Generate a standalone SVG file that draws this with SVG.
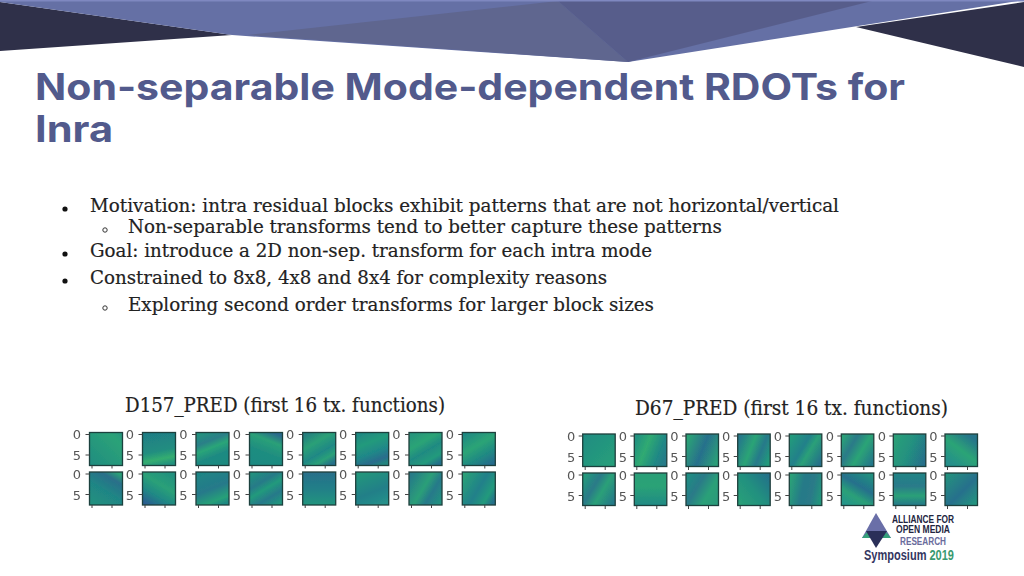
<svg xmlns="http://www.w3.org/2000/svg" width="1024" height="576" viewBox="0 0 1024 576">
<style>
.title{font-family:"Inter","Liberation Sans",sans-serif;font-weight:700;font-size:37px;fill:#525a8c}
.body{font-family:"DejaVu Serif","Liberation Serif",serif;font-size:18.5px;fill:#222;stroke:#222;stroke-width:.2}
.cap{font-family:"DejaVu Serif","Liberation Serif",serif;font-size:19.5px;fill:#222;stroke:#222;stroke-width:.2}
.ax{font-family:"DejaVu Sans",sans-serif;font-size:13px;fill:#555;text-anchor:middle}
.frame{stroke:#1f3f3c;stroke-width:1.3}
.tick{stroke:#444;stroke-width:1;fill:none}
.lg{font-family:"Liberation Sans",sans-serif;font-weight:700}
</style>
<defs>
<filter id="soft" x="-5%" y="-5%" width="110%" height="110%"><feGaussianBlur stdDeviation="0.45"/></filter>
<linearGradient id="a1" x1="0" y1="1" x2="1" y2="0"><stop offset="0" stop-color="#1f8c80"/><stop offset=".8" stop-color="#2ca278"/><stop offset="1" stop-color="#259680"/></linearGradient>
<linearGradient id="a2" x1=".4" y1="0" x2=".6" y2="1"><stop offset="0" stop-color="#1f7f85"/><stop offset=".55" stop-color="#218d80"/><stop offset=".8" stop-color="#34ad70"/><stop offset="1" stop-color="#22917f"/></linearGradient>
<linearGradient id="a3" x1=".3" y1="0" x2=".7" y2="1"><stop offset="0" stop-color="#24907f"/><stop offset=".25" stop-color="#2a7f88"/><stop offset=".45" stop-color="#2aa578"/><stop offset=".7" stop-color="#1f8a82"/><stop offset="1" stop-color="#1f8a80"/></linearGradient>
<linearGradient id="a4" x1=".7" y1="0" x2=".3" y2="1"><stop offset="0" stop-color="#2a6a8c"/><stop offset=".25" stop-color="#2aa078"/><stop offset=".6" stop-color="#1f8d80"/><stop offset="1" stop-color="#1f8a82"/></linearGradient>
<linearGradient id="a5" x1=".2" y1="0" x2=".8" y2="1"><stop offset="0" stop-color="#25807f"/><stop offset=".3" stop-color="#2ba077"/><stop offset=".6" stop-color="#1f8885"/><stop offset=".8" stop-color="#2aa078"/><stop offset="1" stop-color="#256f8a"/></linearGradient>
<linearGradient id="a6" x1=".3" y1="0" x2=".7" y2="1"><stop offset="0" stop-color="#1f8a82"/><stop offset=".3" stop-color="#239a7c"/><stop offset=".6" stop-color="#1f8888"/><stop offset=".85" stop-color="#2a6c8c"/><stop offset="1" stop-color="#22857f"/></linearGradient>
<linearGradient id="a7" x1=".2" y1="0" x2=".8" y2="1"><stop offset="0" stop-color="#26957c"/><stop offset=".3" stop-color="#2ca476"/><stop offset=".55" stop-color="#1f8a82"/><stop offset=".8" stop-color="#249a7c"/><stop offset="1" stop-color="#246f8b"/></linearGradient>
<linearGradient id="a8" x1=".2" y1="0" x2=".8" y2="1"><stop offset="0" stop-color="#1f8a82"/><stop offset=".4" stop-color="#2ca476"/><stop offset=".7" stop-color="#1f8a82"/><stop offset="1" stop-color="#266c8c"/></linearGradient>
<linearGradient id="a9" x1=".8" y1="0" x2=".2" y2="1"><stop offset="0" stop-color="#2ba077"/><stop offset=".2" stop-color="#2a6f8a"/><stop offset=".55" stop-color="#1f8585"/><stop offset="1" stop-color="#22907f"/></linearGradient>
<linearGradient id="a10" x1=".8" y1="0" x2=".2" y2="1"><stop offset="0" stop-color="#22907f"/><stop offset=".4" stop-color="#2aa078"/><stop offset=".7" stop-color="#1f8885"/><stop offset="1" stop-color="#2a5f8f"/></linearGradient>
<linearGradient id="a11" x1=".3" y1="0" x2=".7" y2="1"><stop offset="0" stop-color="#1f8585"/><stop offset=".5" stop-color="#26798a"/><stop offset=".85" stop-color="#26a078"/><stop offset="1" stop-color="#1f8a82"/></linearGradient>
<linearGradient id="a12" x1=".2" y1="0" x2=".8" y2="1"><stop offset="0" stop-color="#22907f"/><stop offset=".3" stop-color="#267a88"/><stop offset=".5" stop-color="#239a7c"/><stop offset=".75" stop-color="#26798a"/><stop offset="1" stop-color="#22957e"/></linearGradient>
<linearGradient id="a13" x1=".5" y1="0" x2=".5" y2="1"><stop offset="0" stop-color="#2a6f8a"/><stop offset=".5" stop-color="#207f88"/><stop offset="1" stop-color="#22957e"/></linearGradient>
<linearGradient id="a14" x1=".3" y1="0" x2=".7" y2="1"><stop offset="0" stop-color="#24967c"/><stop offset=".6" stop-color="#207f88"/><stop offset="1" stop-color="#26908a"/></linearGradient>
<linearGradient id="a15" x1="0" y1=".2" x2="1" y2=".8"><stop offset="0" stop-color="#267a88"/><stop offset=".45" stop-color="#2b9f78"/><stop offset=".7" stop-color="#26798a"/><stop offset="1" stop-color="#239080"/></linearGradient>
<linearGradient id="a16" x1="0" y1=".2" x2="1" y2=".8"><stop offset="0" stop-color="#2aa078"/><stop offset=".5" stop-color="#20808a"/><stop offset=".8" stop-color="#239a7c"/><stop offset="1" stop-color="#25708a"/></linearGradient>
<linearGradient id="b1" x1="0" y1="0" x2="1" y2="1"><stop offset="0" stop-color="#1f8c82"/><stop offset="1" stop-color="#28a07a"/></linearGradient>
<linearGradient id="b2" x1="0" y1=".3" x2="1" y2=".7"><stop offset="0" stop-color="#229280"/><stop offset=".35" stop-color="#30aa72"/><stop offset=".75" stop-color="#1f8885"/><stop offset="1" stop-color="#267a88"/></linearGradient>
<linearGradient id="b3" x1="0" y1=".3" x2="1" y2=".7"><stop offset="0" stop-color="#2ba276"/><stop offset=".5" stop-color="#28708c"/><stop offset="1" stop-color="#2a9f78"/></linearGradient>
<linearGradient id="b4" x1="0" y1=".3" x2="1" y2=".7"><stop offset="0" stop-color="#26798a"/><stop offset=".4" stop-color="#2ba476"/><stop offset=".7" stop-color="#26798a"/><stop offset="1" stop-color="#239a7c"/></linearGradient>
<linearGradient id="b5" x1="0" y1=".2" x2="1" y2=".8"><stop offset="0" stop-color="#249a7c"/><stop offset=".4" stop-color="#22808a"/><stop offset=".6" stop-color="#2aa078"/><stop offset="1" stop-color="#25708a"/></linearGradient>
<linearGradient id="b6" x1="0" y1=".2" x2="1" y2=".8"><stop offset="0" stop-color="#2aa078"/><stop offset=".3" stop-color="#2a7a88"/><stop offset=".6" stop-color="#2ca476"/><stop offset="1" stop-color="#24788a"/></linearGradient>
<linearGradient id="b7" x1="0" y1=".3" x2="1" y2=".7"><stop offset="0" stop-color="#2a9f78"/><stop offset=".5" stop-color="#249080"/><stop offset="1" stop-color="#25708a"/></linearGradient>
<linearGradient id="b8" x1=".2" y1=".9" x2=".8" y2=".1"><stop offset="0" stop-color="#25908a"/><stop offset=".5" stop-color="#2ca476"/><stop offset="1" stop-color="#25758a"/></linearGradient>
<linearGradient id="b9" x1="0" y1=".2" x2="1" y2=".8"><stop offset="0" stop-color="#249a7c"/><stop offset=".35" stop-color="#2a7a88"/><stop offset=".6" stop-color="#2aa078"/><stop offset="1" stop-color="#267a88"/></linearGradient>
<linearGradient id="b10" x1=".5" y1="1" x2=".5" y2="0"><stop offset="0" stop-color="#1f8a85"/><stop offset=".6" stop-color="#2ba276"/><stop offset="1" stop-color="#2a9f78"/></linearGradient>
<linearGradient id="b11" x1="0" y1=".2" x2="1" y2=".8"><stop offset="0" stop-color="#1f8d82"/><stop offset=".35" stop-color="#2a7a88"/><stop offset=".7" stop-color="#2aa078"/><stop offset="1" stop-color="#2a9a7a"/></linearGradient>
<linearGradient id="b12" x1="0" y1=".9" x2="1" y2=".1"><stop offset="0" stop-color="#2aa078"/><stop offset=".5" stop-color="#22907f"/><stop offset="1" stop-color="#25708a"/></linearGradient>
<linearGradient id="b13" x1="0" y1=".4" x2="1" y2=".6"><stop offset="0" stop-color="#2aa078"/><stop offset=".4" stop-color="#267a88"/><stop offset=".7" stop-color="#2a7a88"/><stop offset="1" stop-color="#23957c"/></linearGradient>
<linearGradient id="b14" x1=".2" y1="1" x2=".8" y2="0"><stop offset="0" stop-color="#26968a"/><stop offset=".3" stop-color="#2aa078"/><stop offset=".6" stop-color="#25708c"/><stop offset="1" stop-color="#22907f"/></linearGradient>
<linearGradient id="b15" x1=".5" y1="0" x2=".5" y2="1"><stop offset="0" stop-color="#1f8585"/><stop offset=".4" stop-color="#2a7a8a"/><stop offset=".7" stop-color="#2aa078"/><stop offset="1" stop-color="#25788a"/></linearGradient>
<linearGradient id="b16" x1="0" y1="0" x2="1" y2="1"><stop offset="0" stop-color="#24957c"/><stop offset=".55" stop-color="#26708c"/><stop offset="1" stop-color="#239a7c"/></linearGradient>
<g id="axes"><path class="tick" d="M-4 2H0M-4 22.5H0M2.500 33V36M22.500 33V36"/></g>
</defs>
<g id="banner">
<polygon points="0,2 232,35 0,51" fill="#2f3049"/>
<polygon points="1024,2 856,27 1024,67" fill="#2f3049"/>
<polygon points="0,0 1024,0 628,62 232,35 0,2" fill="#6570a5"/>
<polygon points="248,35 558,1 628,62" fill="#5f668f"/>
<polygon points="558,1 872,1 628,62" fill="#575d8b"/>
<rect x="0" y="0" width="1024" height="1.500" fill="#7f88c0"/>
</g>
<g id="title">
<text class="title" x="35" y="100" textLength="870" lengthAdjust="spacingAndGlyphs">Non-separable Mode-dependent RDOTs for</text>
<text class="title" x="35" y="142" textLength="78" lengthAdjust="spacingAndGlyphs">Inra</text>
</g>
<g id="bullets">
<circle cx="65" cy="209" r="2.600" fill="#111"/>
<circle cx="105" cy="230" r="2.200" fill="none" stroke="#333"/>
<circle cx="65" cy="254" r="2.600" fill="#111"/>
<circle cx="65" cy="281" r="2.600" fill="#111"/>
<circle cx="105" cy="308" r="2.200" fill="none" stroke="#333"/>
<text class="body" x="90" y="212" textLength="749" lengthAdjust="spacingAndGlyphs">Motivation: intra residual blocks exhibit patterns that are not horizontal/vertical</text>
<text class="body" x="128" y="233" textLength="594" lengthAdjust="spacingAndGlyphs">Non-separable transforms tend to better capture these patterns</text>
<text class="body" x="90" y="257" textLength="562" lengthAdjust="spacingAndGlyphs">Goal: introduce a 2D non-sep. transform for each intra mode</text>
<text class="body" x="90" y="284" textLength="517" lengthAdjust="spacingAndGlyphs">Constrained to 8x8, 4x8 and 8x4 for complexity reasons</text>
<text class="body" x="128" y="311" textLength="526" lengthAdjust="spacingAndGlyphs">Exploring second order transforms for larger block sizes</text>
</g>
<g id="captions">
<text class="cap" x="125" y="412" textLength="320" lengthAdjust="spacingAndGlyphs">D157_PRED (first 16 tx. functions)</text>
<text class="cap" x="635" y="415" textLength="313" lengthAdjust="spacingAndGlyphs">D67_PRED (first 16 tx. functions)</text>
</g>
<g id="plots-d157" filter="url(#soft)">
<g id="a-1" transform="translate(89.500 432.500)"><rect class="frame" width="33" height="33" fill="url(#a1)"/><use href="#axes"/><text class="ax" x="-12.500" y="6.500">0</text><text class="ax" x="-12.500" y="27.500">5</text></g>
<g id="a-2" transform="translate(142.500 432.500)"><rect class="frame" width="33" height="33" fill="url(#a2)"/><use href="#axes"/><text class="ax" x="-12.500" y="6.500">0</text><text class="ax" x="-12.500" y="27.500">5</text></g>
<g id="a-3" transform="translate(196 432.500)"><rect class="frame" width="33" height="33" fill="url(#a3)"/><use href="#axes"/><text class="ax" x="-12.500" y="6.500">0</text><text class="ax" x="-12.500" y="27.500">5</text></g>
<g id="a-4" transform="translate(249.500 432.500)"><rect class="frame" width="33" height="33" fill="url(#a4)"/><use href="#axes"/><text class="ax" x="-12.500" y="6.500">0</text><text class="ax" x="-12.500" y="27.500">5</text></g>
<g id="a-5" transform="translate(302.700 432.500)"><rect class="frame" width="33" height="33" fill="url(#a5)"/><use href="#axes"/><text class="ax" x="-12.500" y="6.500">0</text><text class="ax" x="-12.500" y="27.500">5</text></g>
<g id="a-6" transform="translate(355.700 432.500)"><rect class="frame" width="33" height="33" fill="url(#a6)"/><use href="#axes"/><text class="ax" x="-12.500" y="6.500">0</text><text class="ax" x="-12.500" y="27.500">5</text></g>
<g id="a-7" transform="translate(409 432.500)"><rect class="frame" width="33" height="33" fill="url(#a7)"/><use href="#axes"/><text class="ax" x="-12.500" y="6.500">0</text><text class="ax" x="-12.500" y="27.500">5</text></g>
<g id="a-8" transform="translate(462.300 432.500)"><rect class="frame" width="33" height="33" fill="url(#a8)"/><use href="#axes"/><text class="ax" x="-12.500" y="6.500">0</text><text class="ax" x="-12.500" y="27.500">5</text></g>
<g id="a-9" transform="translate(89.500 472)"><rect class="frame" width="33" height="33" fill="url(#a9)"/><use href="#axes"/><text class="ax" x="-12.500" y="6.500">0</text><text class="ax" x="-12.500" y="27.500">5</text></g>
<g id="a-10" transform="translate(142.500 472)"><rect class="frame" width="33" height="33" fill="url(#a10)"/><use href="#axes"/><text class="ax" x="-12.500" y="6.500">0</text><text class="ax" x="-12.500" y="27.500">5</text></g>
<g id="a-11" transform="translate(196 472)"><rect class="frame" width="33" height="33" fill="url(#a11)"/><use href="#axes"/><text class="ax" x="-12.500" y="6.500">0</text><text class="ax" x="-12.500" y="27.500">5</text></g>
<g id="a-12" transform="translate(249.500 472)"><rect class="frame" width="33" height="33" fill="url(#a12)"/><use href="#axes"/><text class="ax" x="-12.500" y="6.500">0</text><text class="ax" x="-12.500" y="27.500">5</text></g>
<g id="a-13" transform="translate(302.700 472)"><rect class="frame" width="33" height="33" fill="url(#a13)"/><use href="#axes"/><text class="ax" x="-12.500" y="6.500">0</text><text class="ax" x="-12.500" y="27.500">5</text></g>
<g id="a-14" transform="translate(355.700 472)"><rect class="frame" width="33" height="33" fill="url(#a14)"/><use href="#axes"/><text class="ax" x="-12.500" y="6.500">0</text><text class="ax" x="-12.500" y="27.500">5</text></g>
<g id="a-15" transform="translate(409 472)"><rect class="frame" width="33" height="33" fill="url(#a15)"/><use href="#axes"/><text class="ax" x="-12.500" y="6.500">0</text><text class="ax" x="-12.500" y="27.500">5</text></g>
<g id="a-16" transform="translate(462.300 472)"><rect class="frame" width="33" height="33" fill="url(#a16)"/><use href="#axes"/><text class="ax" x="-12.500" y="6.500">0</text><text class="ax" x="-12.500" y="27.500">5</text></g>
</g>
<g id="plots-d67" filter="url(#soft)">
<g id="b-1" transform="translate(582.700 434)"><rect class="frame" width="32.500" height="32.500" fill="url(#b1)"/><use href="#axes"/><text class="ax" x="-11.500" y="6.500">0</text><text class="ax" x="-11.500" y="27.500">5</text></g>
<g id="b-2" transform="translate(634.300 434)"><rect class="frame" width="32.500" height="32.500" fill="url(#b2)"/><use href="#axes"/><text class="ax" x="-11.500" y="6.500">0</text><text class="ax" x="-11.500" y="27.500">5</text></g>
<g id="b-3" transform="translate(686 434)"><rect class="frame" width="32.500" height="32.500" fill="url(#b3)"/><use href="#axes"/><text class="ax" x="-11.500" y="6.500">0</text><text class="ax" x="-11.500" y="27.500">5</text></g>
<g id="b-4" transform="translate(737.700 434)"><rect class="frame" width="32.500" height="32.500" fill="url(#b4)"/><use href="#axes"/><text class="ax" x="-11.500" y="6.500">0</text><text class="ax" x="-11.500" y="27.500">5</text></g>
<g id="b-5" transform="translate(789.300 434)"><rect class="frame" width="32.500" height="32.500" fill="url(#b5)"/><use href="#axes"/><text class="ax" x="-11.500" y="6.500">0</text><text class="ax" x="-11.500" y="27.500">5</text></g>
<g id="b-6" transform="translate(841.300 434)"><rect class="frame" width="32.500" height="32.500" fill="url(#b6)"/><use href="#axes"/><text class="ax" x="-11.500" y="6.500">0</text><text class="ax" x="-11.500" y="27.500">5</text></g>
<g id="b-7" transform="translate(893.300 434)"><rect class="frame" width="32.500" height="32.500" fill="url(#b7)"/><use href="#axes"/><text class="ax" x="-11.500" y="6.500">0</text><text class="ax" x="-11.500" y="27.500">5</text></g>
<g id="b-8" transform="translate(945 434)"><rect class="frame" width="32.500" height="32.500" fill="url(#b8)"/><use href="#axes"/><text class="ax" x="-11.500" y="6.500">0</text><text class="ax" x="-11.500" y="27.500">5</text></g>
<g id="b-9" transform="translate(582.700 473)"><rect class="frame" width="32.500" height="32.500" fill="url(#b9)"/><use href="#axes"/><text class="ax" x="-11.500" y="6.500">0</text><text class="ax" x="-11.500" y="27.500">5</text></g>
<g id="b-10" transform="translate(634.300 473)"><rect class="frame" width="32.500" height="32.500" fill="url(#b10)"/><use href="#axes"/><text class="ax" x="-11.500" y="6.500">0</text><text class="ax" x="-11.500" y="27.500">5</text></g>
<g id="b-11" transform="translate(686 473)"><rect class="frame" width="32.500" height="32.500" fill="url(#b11)"/><use href="#axes"/><text class="ax" x="-11.500" y="6.500">0</text><text class="ax" x="-11.500" y="27.500">5</text></g>
<g id="b-12" transform="translate(737.700 473)"><rect class="frame" width="32.500" height="32.500" fill="url(#b12)"/><use href="#axes"/><text class="ax" x="-11.500" y="6.500">0</text><text class="ax" x="-11.500" y="27.500">5</text></g>
<g id="b-13" transform="translate(789.300 473)"><rect class="frame" width="32.500" height="32.500" fill="url(#b13)"/><use href="#axes"/><text class="ax" x="-11.500" y="6.500">0</text><text class="ax" x="-11.500" y="27.500">5</text></g>
<g id="b-14" transform="translate(841.300 473)"><rect class="frame" width="32.500" height="32.500" fill="url(#b14)"/><use href="#axes"/><text class="ax" x="-11.500" y="6.500">0</text><text class="ax" x="-11.500" y="27.500">5</text></g>
<g id="b-15" transform="translate(893.300 473)"><rect class="frame" width="32.500" height="32.500" fill="url(#b15)"/><use href="#axes"/><text class="ax" x="-11.500" y="6.500">0</text><text class="ax" x="-11.500" y="27.500">5</text></g>
<g id="b-16" transform="translate(945 473)"><rect class="frame" width="32.500" height="32.500" fill="url(#b16)"/><use href="#axes"/><text class="ax" x="-11.500" y="6.500">0</text><text class="ax" x="-11.500" y="27.500">5</text></g>
</g>
<g id="logo">
<polygon points="876,513 862,538 891,538" fill="#6a6fa8"/>
<polygon points="867,532 862,538 871,538" fill="#36a07a"/>
<polygon points="886,532 891,538 882,538" fill="#36a07a"/>
<polygon points="866,531 887,531 876,548" fill="#2a2f58"/>
<text class="lg" x="892" y="523" font-size="10.500" fill="#23263f" textLength="62" lengthAdjust="spacingAndGlyphs">ALLIANCE FOR</text>
<text class="lg" x="896" y="532.500" font-size="10.500" fill="#23263f" textLength="54" lengthAdjust="spacingAndGlyphs">OPEN MEDIA</text>
<text class="lg" x="900" y="544.500" font-size="10.500" fill="#6a6c9c" textLength="46" lengthAdjust="spacingAndGlyphs">RESEARCH</text>
<text class="lg" x="864" y="560" font-size="14" fill="#33365f" textLength="90" lengthAdjust="spacingAndGlyphs">Symposium <tspan fill="#3a9a70">2019</tspan></text>
</g>
</svg>
